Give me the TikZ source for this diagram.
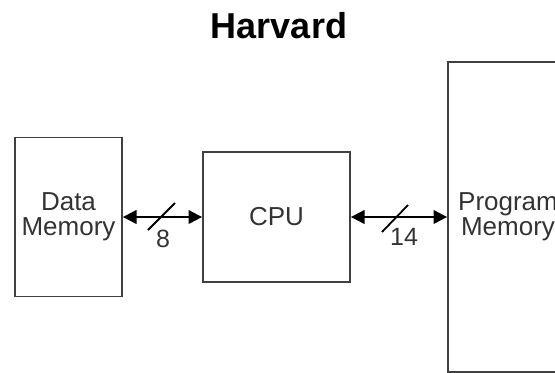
\documentclass[tikz,border=0pt]{standalone}
\usepackage{fontspec}
\setmainfont{Liberation Sans}
\usetikzlibrary{arrows.meta, positioning, calc}

\begin{document}
\begin{tikzpicture}[
      x=0.5pt, y=-0.5pt,
      blk/.style={draw=black!75, line width=0.9pt, inner sep=0pt, align=center,
        font=\fontsize{13}{12.5}\selectfont, text=black!80},
      bus/.style={{Triangle[length=6.8pt,width=6.8pt]}-{Triangle[length=6.8pt,width=6.8pt]},
        line width=1pt},
      wid/.style={line width=0.9pt},
      lbl/.style={font=\fontsize{12.5}{12.5}\selectfont, text=black!80, inner sep=0pt, anchor=base},
    ]
    \useasboundingbox (0,0) rectangle (555,372);
    \clip (0,0) rectangle (555,372);
    % title
    \node[font=\bfseries\fontsize{18}{18}\selectfont, anchor=base, inner sep=0pt] (title)
      at (279,38) {Harvard};
    % blocks
    \node[blk, minimum width=53.5pt, minimum height=79.5pt] (dmem) at (68.5,217) {Data\\Memory};
    \node[blk, minimum width=73.5pt, minimum height=65pt] (cpu) at (276.5,217) {CPU};
    \node[blk, minimum width=60pt, minimum height=155pt] (pmem) at (508,217) {Program\\Memory};
    % buses with width marks
    \draw[bus] (dmem.east) -- (cpu.west) coordinate[midway] (m1);
    \draw[wid] ($(m1)+(-14.5,13)$) -- ($(m1)+(12.5,-14)$);
    \node[lbl] (w1) at ($(m1)+(0.5,30)$) {8};
    \draw[bus] (cpu.east) -- (pmem.west) coordinate[midway] (m2);
    \draw[wid] ($(m2)+(-17,15)$) -- ($(m2)+(9,-12)$);
    \node[lbl] (w2) at ($(m2)+(5,28)$) {14};
  \end{tikzpicture}
\end{document}
